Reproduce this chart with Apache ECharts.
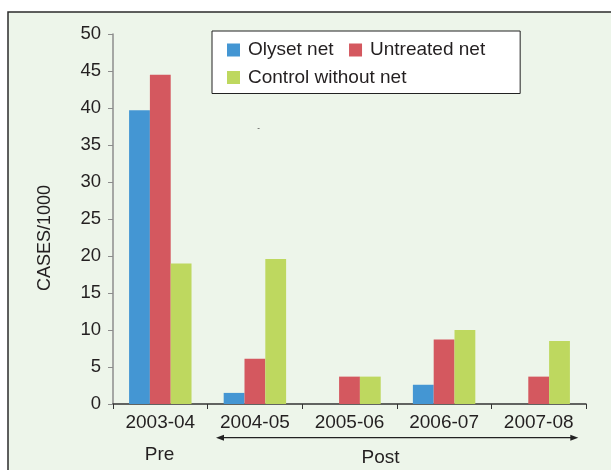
<!DOCTYPE html>
<html>
<head>
<meta charset="utf-8">
<script src="https://cdn.jsdelivr.net/npm/echarts@6/dist/echarts.min.js"></script>
<style>
  html, body { margin: 0; padding: 0; background: #ffffff; }
  #chart { width: 611px; height: 470px; }
</style>
</head>
<body>
<div id="chart"></div>
<script>
// Malaria incidence (cases per 1000) by year and net type
const years = ['2003-04', '2004-05', '2005-06', '2006-07', '2007-08'];
const olysetNet = [39.7, 1.5, 0, 2.6, 0];
const untreatedNet = [44.5, 6.1, 3.7, 8.7, 3.7];
const controlWithoutNet = [19.0, 19.6, 3.7, 10.0, 8.5];
const yTicks = { min: 0, max: 50, interval: 5 };

const FONT = '"Liberation Sans", Arial, sans-serif';
const INK = '#231f20';

const chart = echarts.init(document.getElementById('chart'), null, { renderer: 'canvas' });

const makeBar = (name, data, color) => ({
  name: name,
  type: 'bar',
  data: data,
  barGap: '0%',
  barCategoryGap: '34%',
  itemStyle: { color: color },
  emphasis: { disabled: true }
});

chart.setOption({
  backgroundColor: '#ffffff',
  animation: false,
  textStyle: { fontFamily: FONT },
  grid: { left: 113, right: 25, top: 34, bottom: 66, containLabel: false },
  legend: {
    left: 212,
    top: 31,
    width: 309,
    orient: 'horizontal',
    align: 'left',
    padding: [9.5, 28, 6.5, 15],
    itemGap: 8.5,
    itemWidth: 13,
    itemHeight: 13,
    icon: 'rect',
    backgroundColor: '#ffffff',
    borderColor: '#222222',
    borderWidth: 1,
    selectedMode: false,
    textStyle: {
      fontFamily: FONT,
      fontSize: 19,
      color: INK,
      lineHeight: 19,
      padding: [0, 7, 0, 3]
    },
    data: ['Olyset net', 'Untreated net', 'Control without net']
  },
  xAxis: {
    type: 'category',
    data: years,
    boundaryGap: true,
    axisLine: { show: true, lineStyle: { color: '#333333', width: 1.5 } },
    axisTick: { show: true, alignWithLabel: false, length: 5, lineStyle: { color: '#333333', width: 1 } },
    axisLabel: { fontFamily: FONT, fontSize: 19, color: INK, margin: 9, interval: 0 },
    splitLine: { show: false }
  },
  yAxis: {
    type: 'value',
    min: yTicks.min,
    max: yTicks.max,
    interval: yTicks.interval,
    axisLine: { show: true, lineStyle: { color: '#8c8c8c', width: 1.5 } },
    axisTick: { show: true, length: 5, lineStyle: { color: '#8c8c8c', width: 1 } },
    axisLabel: { fontFamily: FONT, fontSize: 18.5, color: INK, margin: 12 },
    splitLine: { show: false }
  },
  series: [
    makeBar('Olyset net', olysetNet, '#4496d3'),
    makeBar('Untreated net', untreatedNet, '#d4585f'),
    makeBar('Control without net', controlWithoutNet, '#bed85f')
  ],
  graphic: [
    {
      // panel frame behind the plot
      type: 'rect',
      z: -100,
      silent: true,
      shape: { x: 8, y: 12, width: 700, height: 500 },
      style: { fill: '#edf5ea', stroke: '#2b2b2b', lineWidth: 1.5 }
    },
    {
      type: 'text',
      silent: true,
      x: 45,
      y: 238,
      rotation: Math.PI / 2,
      style: {
        text: 'CASES/1000',
        fontFamily: FONT,
        fontSize: 18,
        fill: INK,
        align: 'center',
        verticalAlign: 'middle'
      }
    },
    {
      type: 'text',
      silent: true,
      x: 258.7,
      y: 127.7,
      style: { text: '-', fontFamily: FONT, fontSize: 8, fill: INK, align: 'center', verticalAlign: 'middle' }
    },
    {
      type: 'text',
      silent: true,
      x: 159.5,
      y: 454.5,
      style: { text: 'Pre', fontFamily: FONT, fontSize: 19, fill: INK, align: 'center', verticalAlign: 'middle' }
    },
    {
      type: 'text',
      silent: true,
      x: 380.5,
      y: 457.5,
      style: { text: 'Post', fontFamily: FONT, fontSize: 19, fill: INK, align: 'center', verticalAlign: 'middle' }
    },
    {
      // double-headed arrow spanning the post-intervention years
      type: 'line',
      silent: true,
      shape: { x1: 222, y1: 437.7, x2: 572, y2: 437.7 },
      style: { stroke: '#222222', lineWidth: 1.2 }
    },
    {
      type: 'polygon',
      silent: true,
      shape: { points: [[216, 437.7], [224, 434.7], [224, 440.7]] },
      style: { fill: '#222222' }
    },
    {
      type: 'polygon',
      silent: true,
      shape: { points: [[578.3, 437.7], [570.3, 434.7], [570.3, 440.7]] },
      style: { fill: '#222222' }
    }
  ]
});
</script>
</body>
</html>
